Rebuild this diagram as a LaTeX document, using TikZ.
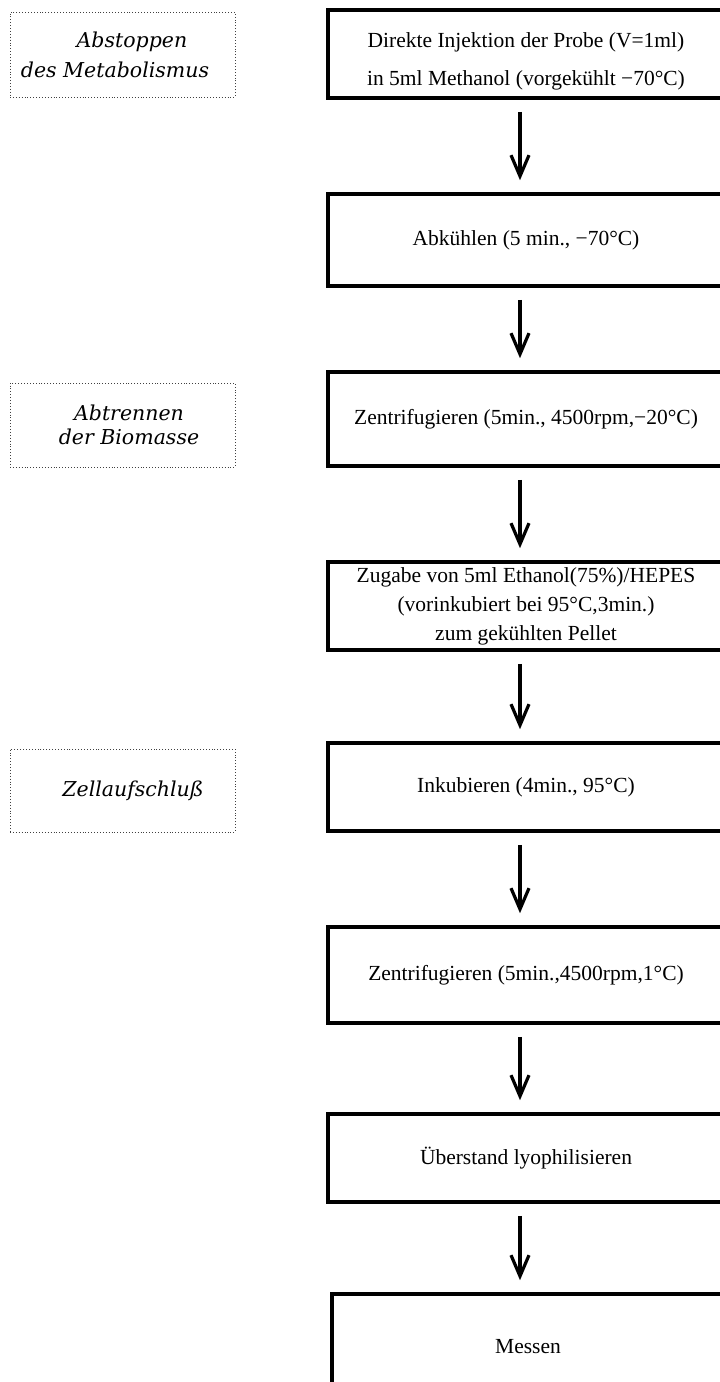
\documentclass[tikz,border=0pt]{standalone}
\usepackage{fontspec}
\setmainfont{Liberation Serif}
\newfontfamily\notefont{DejaVu Serif}
\usetikzlibrary{arrows.meta}
\begin{document}
\begin{tikzpicture}[x=1pt,y=-1pt,
  stepbox/.style={draw, line width=3.6pt, minimum width=396pt, align=center, inner sep=0pt,
    font=\fontsize{21.5}{29}\selectfont},
  notebox/.style={draw=black!75, dotted, line width=0.9pt, minimum width=225pt, align=center, inner sep=0pt,
    font=\notefont\itshape\fontsize{20.5}{24}\selectfont},
  flow/.style={line width=3.2pt, -{Straight Barb[length=21pt,width=18pt]}, shorten <=12pt, shorten >=12pt}]
\useasboundingbox (0,0) rectangle (720,1382);
% process steps
\node[stepbox, minimum height=88pt] (b1) at (526,54) {\rule{0pt}{29pt}Direkte Injektion der Probe (V=1ml)\\[9pt]in 5ml Methanol (vorgekühlt −70°C)};
\node[stepbox, minimum height=92pt] (b2) at (526,240) {Abkühlen (5 min., −70°C)};
\node[stepbox, minimum height=94pt] (b3) at (526,419) {Zentrifugieren (5min., 4500rpm,−20°C)};
\node[stepbox, minimum height=88pt] (b4) at (526,606) {Zugabe von 5ml Ethanol(75\%)/HEPES\\(vorinkubiert bei 95°C,3min.)\\zum gekühlten Pellet};
\node[stepbox, minimum height=88pt] (b5) at (526,787) {Inkubieren (4min., 95°C)};
\node[stepbox, minimum height=96pt] (b6) at (526,975) {Zentrifugieren (5min.,4500rpm,1°C)};
\node[stepbox, minimum height=88pt] (b7) at (526,1158) {Überstand lyophilisieren};
\node[stepbox, minimum width=392pt, minimum height=106pt] (b8) at (528,1347) {Messen};
% notes
\node[notebox, minimum height=85pt] (n1) at (122.5,54.5) {\hspace*{19pt}Abstoppen\\[6pt]\hspace*{-15pt}des Metabolismus};
\node[notebox, minimum height=84pt] (n2) at (122.5,425) {\hspace*{13pt}Abtrennen\\\hspace*{13pt}der Biomasse};
\node[notebox, minimum height=83pt] (n3) at (122.5,790.5) {\hspace*{21pt}Zellaufschluß};
% arrows
\coordinate (ax) at (520,0);
\foreach \a/\b in {b1/b2,b2/b3,b3/b4,b4/b5,b5/b6,b6/b7,b7/b8}
  \draw[flow] (\a.south -| ax) -- (\b.north -| ax);
\end{tikzpicture}
\end{document}
